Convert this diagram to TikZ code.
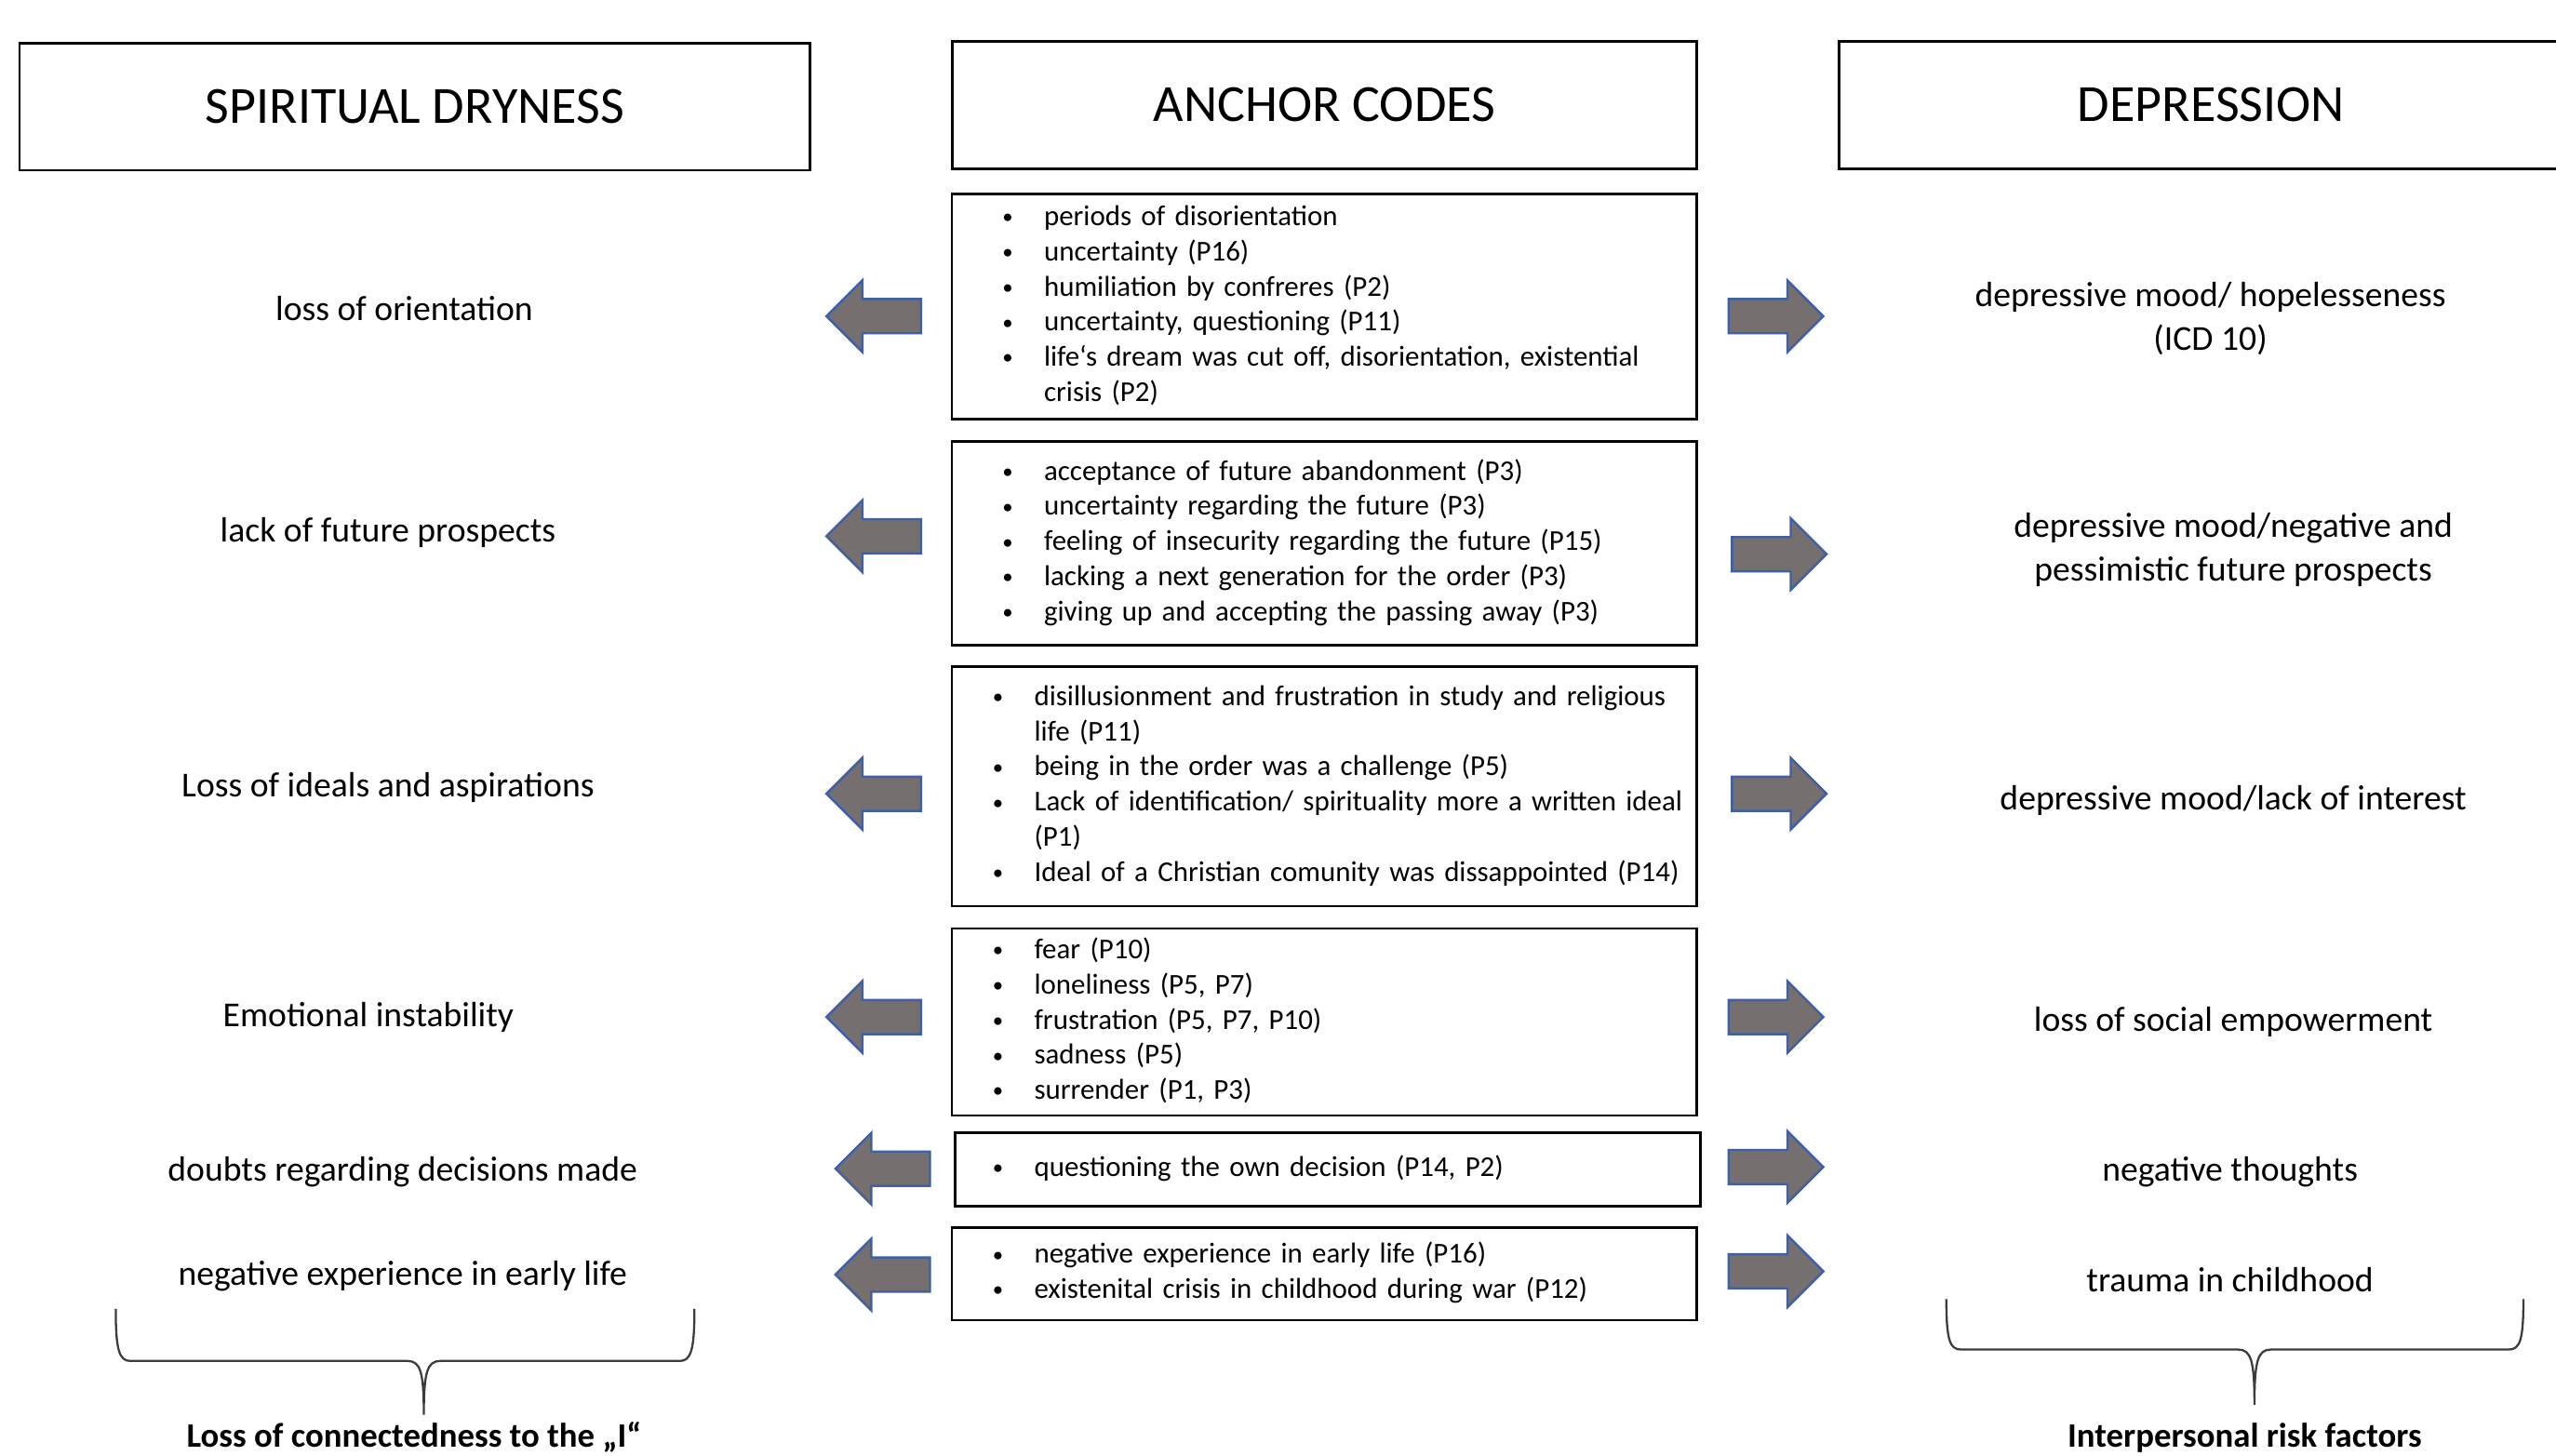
\documentclass[tikz,border=0pt]{standalone}
\usepackage{fontspec}
\setmainfont{Carlito}
\usetikzlibrary{positioning}

\definecolor{arrowgray}{RGB}{118,111,111}
\definecolor{arrowblue}{RGB}{62,96,164}
\definecolor{bracegray}{RGB}{60,60,60}

% one row of a code list: bullet, then text
\newcommand{\cd}[1]{\raisebox{1pt}{\fontsize{13}{13}\selectfont\textbullet} & #1\\}
\newcommand{\cdlist}[2]{\hspace*{#1pt}\begin{tabular}{@{}l@{\hspace{19pt}}l@{}}#2\end{tabular}}

\tikzset{
  blockarrow/.pic={
    \path[fill=arrowgray, draw=arrowblue, line width=1.4]
      (-29,0) -- (-7,-22) -- (-7,-10.5) -- (29,-10.5)
      -- (29,10.5) -- (-7,10.5) -- (-7,22) -- cycle;
  },
}

\begin{document}
\begin{tikzpicture}[
  x=1pt, y=-1pt,
  headbox/.style={draw, line width=1.6, minimum height=78,
    font=\fontsize{32}{38}\selectfont},
  codebox/.style={draw, line width=1.5, minimum width=457,
    text width=457pt, inner xsep=0pt, align=left,
    font=\fontsize{17.65}{21.6}\selectfont},
  lab/.style={align=center, font=\fontsize{21.5}{27}\selectfont},
  sumlab/.style={font=\fontsize{21}{25}\selectfont\bfseries},
  brace/.style={draw=bracegray, line width=1.3},
]
\useasboundingbox (0,0) rectangle (1568,893);

% headers
\node[headbox, minimum width=485] (hsd) at (254.5,65.5) {SPIRITUAL DRYNESS};
\node[headbox, minimum width=457] (hac) at (812.5,64.5) {ANCHOR CODES};
\node[headbox, minimum width=457] (hdp) at (1356.5,64.5) {DEPRESSION};

% anchor codes
\node[codebox, minimum height=138] (c1) at (812.5,188) {\cdlist{31}{%
  \cd{periods of disorientation}
  \cd{uncertainty (P16)}
  \cd{humiliation by confreres (P2)}
  \cd{uncertainty, questioning (P11)}
  \cd{life‘s dream was cut off, disorientation, existential}
  & crisis (P2)}};
\node[codebox, minimum height=125] (c2) at (812.5,333.5) {\cdlist{31}{%
  \cd{acceptance of future abandonment (P3)}
  \cd{uncertainty regarding the future (P3)}
  \cd{feeling of insecurity regarding the future (P15)}
  \cd{lacking a next generation for the order (P3)}
  \cd{giving up and accepting the passing away (P3)}}};
\node[codebox, minimum height=147] (c3) at (812.5,482.5) {\cdlist{25}{%
  \cd{disillusionment and frustration in study and religious}
  & life (P11)\\
  \cd{being in the order was a challenge (P5)}
  \cd{Lack of identification/ spirituality more a written ideal}
  & (P1)\\
  \cd{Ideal of a Christian comunity was dissappointed (P14)}}};
\node[codebox, minimum height=114] (c4) at (812.5,627) {\cdlist{25}{%
  \cd{fear (P10)}
  \cd{loneliness (P5, P7)}
  \cd{frustration (P5, P7, P10)}
  \cd{sadness (P5)}
  \cd{surrender (P1, P3)}}};
\node[codebox, minimum height=45] (c5) at (814.5,717.5) {\cdlist{23}{%
  \cd{questioning the own decision (P14, P2)}}};
\node[codebox, minimum height=57] (c6) at (812.5,781.5) {\cdlist{25}{%
  \cd{negative experience in early life (P16)}
  \cd{existenital crisis in childhood during war (P12)}}};

% spiritual dryness side
\node[lab] (l1) at (248,189) {loss of orientation};
\node[lab] (l2) at (238,327) {lack of future prospects};
\node[lab] (l3) at (238,483) {Loss of ideals and aspirations};
\node[lab] (l4) at (226,624) {Emotional instability};
\node[lab] (l5) at (247,719) {doubts regarding decisions made};
\node[lab] (l6) at (247,783) {negative experience in early life};

% depression side
\node[lab] (r1) at (1356,195.5) {depressive mood/ hopelesseness\\(ICD 10)};
\node[lab] (r2) at (1370,337.5) {depressive mood/negative and\\pessimistic future prospects};
\node[lab] (r3) at (1370,491) {depressive mood/lack of interest};
\node[lab] (r4) at (1370,627) {loss of social empowerment};
\node[lab] (r5) at (1368,719) {negative thoughts};
\node[lab] (r6) at (1368,785) {trauma in childhood};

% block arrows
\pic at (536,194) {blockarrow};
\pic at (536,329) {blockarrow};
\pic at (536,487) {blockarrow};
\pic at (536,624) {blockarrow};
\pic at (541.5,717) {blockarrow};
\pic at (541.5,782) {blockarrow};
\pic[xscale=-1] at (1089.5,194) {blockarrow};
\pic[xscale=-1] at (1091.5,340) {blockarrow};
\pic[xscale=-1] at (1091.5,487) {blockarrow};
\pic[xscale=-1] at (1089.5,624) {blockarrow};
\pic[xscale=-1] at (1089.5,716) {blockarrow};
\pic[xscale=-1] at (1089.5,780) {blockarrow};

% braces
\coordinate (bl) at (260,868);
\coordinate (br) at (1383,862);
\draw[brace] (71,803) .. controls (71,828) and (73,835) .. (80,835)
  -- (250,835) .. controls (258,835) and (260,842) .. (bl)
  .. controls (260,842) and (262,835) .. (270,835)
  -- (417,835) .. controls (424,835) and (426,828) .. (426,803);
\draw[brace] (1194,797) .. controls (1194,822) and (1196,828) .. (1203,828)
  -- (1373,828) .. controls (1381,828) and (1383,835) .. (br)
  .. controls (1383,835) and (1385,828) .. (1393,828)
  -- (1539,828) .. controls (1546,828) and (1548,822) .. (1548,797);

\node[sumlab] (sl) at (254,882) {Loss of connectedness to the „I“};
\node[sumlab] (sr) at (1377,882) {Interpersonal risk factors};
\end{tikzpicture}
\end{document}
